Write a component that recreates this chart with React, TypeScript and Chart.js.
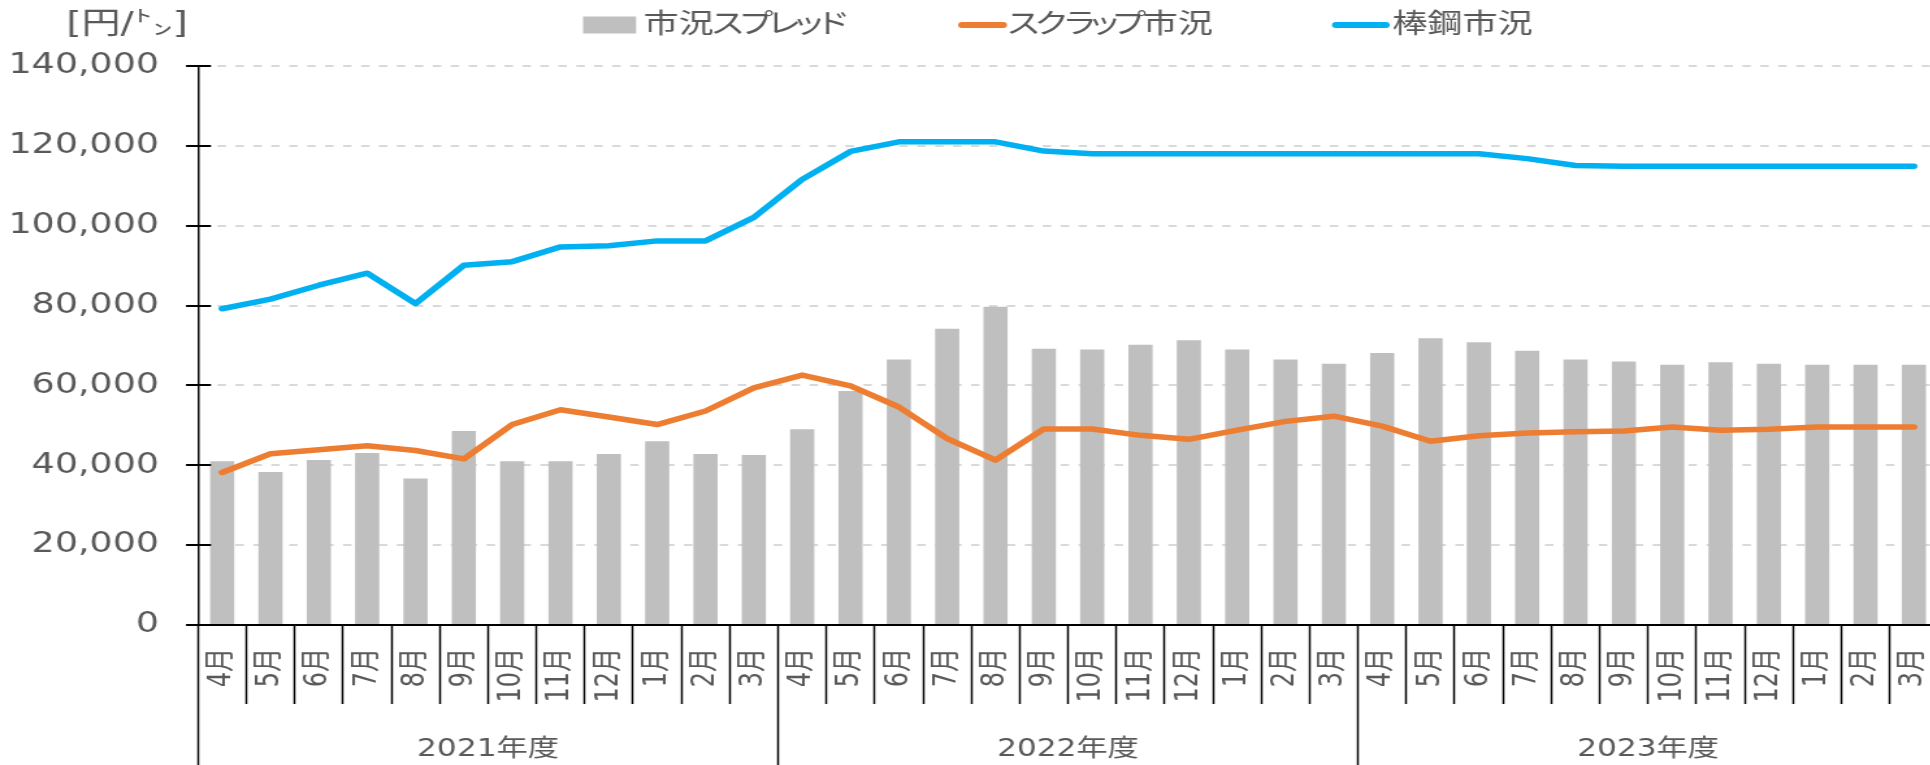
import React, { useEffect, useRef } from 'react';
import { Chart, registerables } from 'chart.js';

Chart.register(...registerables);

// ---------- data ----------
const MONTHS = ['4月', '5月', '6月', '7月', '8月', '9月', '10月', '11月', '12月', '1月', '2月', '3月'];
const YEARS = ['2021年度', '2022年度', '2023年度'];
const CATEGORIES = [...MONTHS, ...MONTHS, ...MONTHS];

const SPREAD = [
  41000, 38300, 41300, 43100, 36700, 48600, 41000, 41000, 42800, 46000, 42800, 42600,
  49000, 58600, 66500, 74200, 79700, 69200, 69000, 70200, 71300, 69000, 66500, 65400,
  68100, 71800, 70800, 68700, 66500, 66000, 65200, 65800, 65400, 65200, 65200, 65200,
];
const SCRAP = [
  38200, 42900, 43900, 44900, 43700, 41600, 50200, 53900, 52100, 50200, 53600, 59400,
  62600, 59900, 54600, 46700, 41300, 49100, 49100, 47500, 46500, 48800, 51000, 52300,
  49800, 46000, 47400, 48100, 48400, 48600, 49600, 48800, 49000, 49600, 49600, 49600,
];
const REBAR = [
  79200, 81600, 85100, 88100, 80500, 90100, 91000, 94700, 95000, 96200, 96200, 102100,
  111600, 118600, 121000, 121000, 121000, 118700, 118000, 118000, 118000, 118000, 118000, 118000,
  118000, 118000, 118000, 116800, 115100, 114900, 114900, 114900, 114900, 114900, 114900, 114900,
];
const SERIES_NAMES = ['市況スプレッド', 'スクラップ市況', '棒鋼市況'];
const UNIT_LABEL = '[円/㌧]';
const Y_MIN = 0;
const Y_MAX = 140000;
const Y_STEP = 20000;

// ---------- styles ----------
const FONT = '"DejaVu Sans", "Noto Sans CJK JP", sans-serif';
const TEXT = '#595959';
const AXIS = '#000000';
const GRID = '#D9D9D9';
const BAR_COLOR = '#BFBFBF';
const SCRAP_COLOR = '#ED7D31';
const REBAR_COLOR = '#00B0F0';
const STRETCH = 1.3;

const SMALL_KANA = 'ッャュョァィゥェォ';

// draw text with proportional katakana (like a "palt" UI font)
function drawPropText(ctx: any, text: string, x: number, y: number, size: number) {
  let cx = x;
  ctx.textAlign = 'center';
  for (const ch of text) {
    const code = ch.charCodeAt(0);
    let adv: number;
    if (code >= 0x30a0 && code <= 0x30ff) {
      adv = (SMALL_KANA.includes(ch) ? 0.6 : 0.8) * size;
    } else {
      adv = ctx.measureText(ch).width;
    }
    ctx.fillText(ch, cx + adv / 2, y);
    cx += adv;
  }
  ctx.textAlign = 'left';
}

const decorPlugin = {
  id: 'decor',
  afterDraw(chart: any) {
    const { ctx, chartArea } = chart;
    const ys = chart.scales.y;
    ctx.save();
    // inner half of the y-axis tick marks
    ctx.strokeStyle = AXIS;
    ctx.lineWidth = 2;
    for (const t of ys.ticks) {
      const py = Math.round(ys.getPixelForValue(t.value));
      ctx.beginPath();
      ctx.moveTo(chartArea.left, py);
      ctx.lineTo(chartArea.left + 10, py);
      ctx.stroke();
    }
    // unit label
    ctx.fillStyle = TEXT;
    ctx.textAlign = 'left';
    ctx.textBaseline = 'middle';
    ctx.font = `30px ${FONT}`;
    ctx.fillText(UNIT_LABEL, 51, 25);

    // legend
    const ds = chart.data.datasets;
    const cy = 25;
    const fs = 27;
    ctx.font = `${fs}px ${FONT}`;
    // bar item
    ctx.fillStyle = ds[0].backgroundColor;
    ctx.fillRect(448.5, cy - 8.5, 40.8, 17);
    ctx.fillStyle = TEXT;
    drawPropText(ctx, ds[0].label, 495, cy + 1, fs);
    // line items
    const lineItems = [
      { i: 1, x0: 737, x1: 774.6, tx: 776.5 },
      { i: 2, x0: 1024.6, x1: 1069, tx: 1071 },
    ];
    for (const it of lineItems) {
      ctx.strokeStyle = ds[it.i].borderColor;
      ctx.lineWidth = 6;
      ctx.lineCap = 'round';
      ctx.beginPath();
      ctx.moveTo(it.x0 + 3, cy);
      ctx.lineTo(it.x1 - 3, cy);
      ctx.stroke();
      ctx.fillStyle = TEXT;
      drawPropText(ctx, ds[it.i].label, it.tx, cy + 1, fs);
    }
    ctx.restore();
  },
};

export default function App() {
  const ref = useRef<HTMLCanvasElement | null>(null);

  useEffect(() => {
    const canvas = ref.current;
    if (!canvas) return;
    const chart = new Chart(canvas, {
      type: 'bar',
      data: {
        labels: CATEGORIES,
        datasets: [
          {
            type: 'bar',
            label: SERIES_NAMES[0],
            data: SPREAD,
            backgroundColor: BAR_COLOR,
            borderWidth: 0,
            categoryPercentage: 1,
            barPercentage: 0.5,
            order: 3,
            xAxisID: 'x',
            yAxisID: 'y',
          },
          {
            type: 'line',
            label: SERIES_NAMES[1],
            data: SCRAP,
            borderColor: SCRAP_COLOR,
            backgroundColor: SCRAP_COLOR,
            borderWidth: 5.5,
            pointRadius: 0,
            tension: 0,
            borderJoinStyle: 'round',
            borderCapStyle: 'round',
            fill: false,
            order: 2,
            xAxisID: 'x',
            yAxisID: 'y',
          },
          {
            type: 'line',
            label: SERIES_NAMES[2],
            data: REBAR,
            borderColor: REBAR_COLOR,
            backgroundColor: REBAR_COLOR,
            borderWidth: 5.5,
            pointRadius: 0,
            tension: 0,
            borderJoinStyle: 'round',
            borderCapStyle: 'round',
            fill: false,
            order: 1,
            xAxisID: 'x',
            yAxisID: 'y',
          },
        ] as any,
      },
      options: {
        responsive: false,
        animation: false,
        devicePixelRatio: 1,
        layout: { padding: { top: 66, left: 0, right: 9.2, bottom: 0 } },
        plugins: {
          legend: { display: false },
          tooltip: { enabled: false },
          title: { display: false },
        },
        scales: {
          x: {
            type: 'category',
            position: 'bottom',
            weight: 0,
            offset: true,
            grid: {
              offset: true,
              drawOnChartArea: false,
              drawTicks: true,
              tickLength: 79,
              tickColor: AXIS,
              tickWidth: 1.5,
            },
            border: { display: true, color: AXIS, width: 2 },
            ticks: {
              autoSkip: false,
              maxRotation: 90,
              minRotation: 90,
              padding: -56,
              color: TEXT,
              font: { family: FONT, size: 24 },
            },
            afterFit: (s: any) => {
              s.height = 79;
              s.paddingLeft = 0;
              s.paddingRight = 0;
            },
          },
          x2: {
            type: 'category',
            position: 'bottom',
            weight: 1,
            labels: YEARS,
            offset: true,
            grid: {
              offset: true,
              drawOnChartArea: false,
              drawTicks: true,
              tickLength: 61,
              tickColor: AXIS,
              tickWidth: 1.5,
            },
            border: { display: false },
            ticks: {
              autoSkip: false,
              maxRotation: 0,
              minRotation: 0,
              padding: -30,
              color: TEXT,
              font: { family: FONT, size: 24 },
            },
            afterFit: (s: any) => {
              s.height = 61;
              s.paddingLeft = 0;
              s.paddingRight = 0;
            },
          },
          y: {
            type: 'linear',
            position: 'left',
            min: Y_MIN,
            max: Y_MAX,
            grid: {
              color: GRID,
              lineWidth: 2,
              drawTicks: true,
              tickLength: 9.2,
              tickColor: AXIS,
              tickWidth: 2,
            },
            border: { display: true, color: AXIS, width: 1.5, dash: [6.5, 7.3] },
            ticks: {
              stepSize: Y_STEP,
              padding: 20.8,
              color: TEXT,
              font: { family: FONT, size: 28 },
              callback: (v: any) => Number(v).toLocaleString('en-US'),
            },
            afterFit: (s: any) => {
              s.width = 152.3;
              s.paddingTop = 0;
              s.paddingBottom = 0;
            },
          },
        },
      } as any,
      plugins: [decorPlugin],
    });
    return () => chart.destroy();
  }, []);

  return (
    <div
      style={{
        position: 'fixed',
        left: 0,
        top: 0,
        width: 1930,
        height: 765,
        overflow: 'hidden',
        background: '#ffffff',
      }}
    >
      <canvas
        ref={ref}
        width={1500}
        height={765}
        style={{ display: 'block', transform: `scaleX(${STRETCH})`, transformOrigin: '0 0' }}
      />
    </div>
  );
}
